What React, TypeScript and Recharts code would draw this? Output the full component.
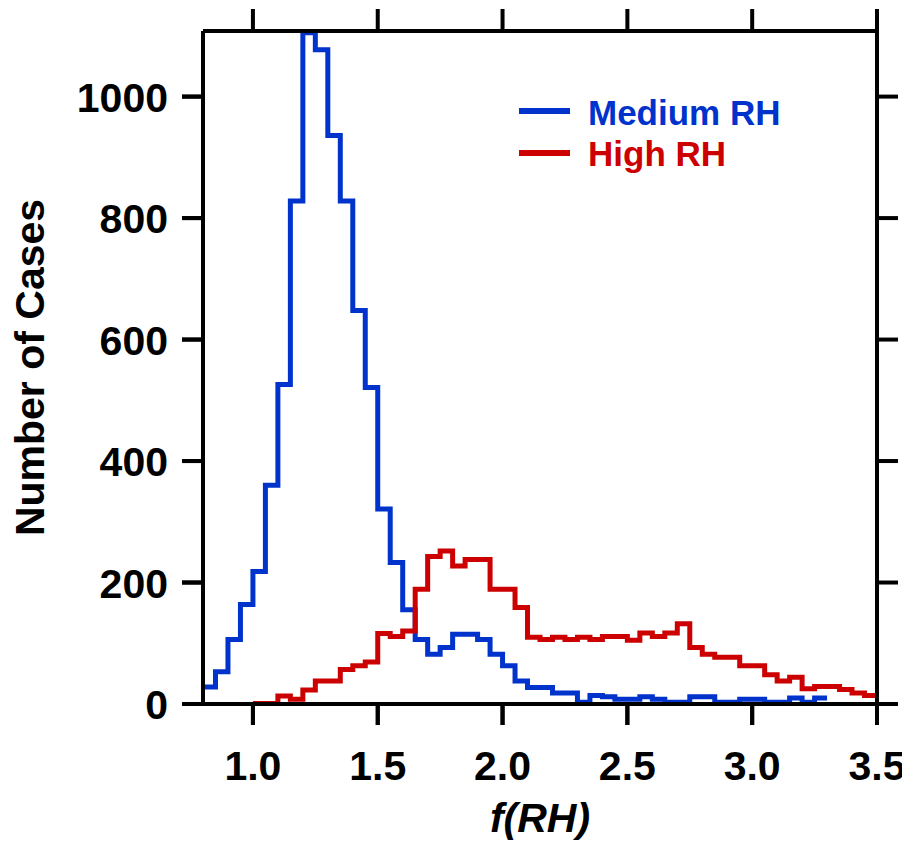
import React from 'react';
import { LineChart, Line, XAxis, YAxis, Legend } from 'recharts';

// Histogram bins (left edges), width 0.05
const binWidth = 0.05;
const mediumStart = 0.8;
const mediumCounts = [
  28, 53, 106, 164, 218, 360, 526, 828, 1105, 1077,
  936, 828, 648, 521, 321, 233, 155, 106, 82, 93,
  115, 115, 106, 82, 63, 38, 27, 27, 18, 18,
  3, 14, 12, 8, 8, 12, 8, 3, 3, 12,
  12, 3, 3, 8, 8, 3, 3, 10, 3, 10,
];
const highStart = 1.0;
const highCounts = [
  1, 1, 13, 8, 23, 38, 38, 57, 63, 69,
  116, 111, 120, 189, 243, 252, 227, 238, 238, 189,
  189, 159, 110, 106, 110, 106, 110, 106, 111, 111,
  105, 117, 111, 117, 132, 93, 82, 77, 77, 63,
  63, 48, 38, 44, 25, 29, 29, 24, 18, 14,
];

const xTicks = [1.0, 1.5, 2.0, 2.5, 3.0, 3.5];
const yTicks = [0, 200, 400, 600, 800, 1000];
const xDomain: [number, number] = [0.8, 3.5];
const yDomain: [number, number] = [0, 1108];

const seriesInfo = [
  { name: 'Medium RH', color: '#0033cc' },
  { name: 'High RH', color: '#cc0000' },
];

const toSteps = (start: number, counts: number[]) => {
  const pts = counts.map((c, i) => ({ x: Number((start + i * binWidth).toFixed(2)), count: c }));
  pts.push({ x: Number((start + counts.length * binWidth).toFixed(2)), count: counts[counts.length - 1] });
  return pts;
};

const mediumSteps = toSteps(mediumStart, mediumCounts);
const highSteps = toSteps(highStart, highCounts);

const FONT = '"Liberation Sans", Arial, Helvetica, sans-serif';
const TICK_LEN = 21;
const GAP = 2; // recharts default tickMargin

const XTitle = (props: any) => {
  const vb = props.viewBox || {};
  return (
    <text
      x={vb.x + vb.width / 2}
      y={vb.y + 128}
      textAnchor="middle"
      fontFamily={FONT}
      fontWeight="bold"
      fontStyle="italic"
      fontSize={41}
      fill="#000"
    >
      f(RH)
    </text>
  );
};

const YTitle = (props: any) => {
  const vb = props.viewBox || {};
  const cx = 36;
  const cy = vb.y + vb.height / 2;
  return (
    <text
      x={cx}
      y={cy}
      transform={`rotate(-90, ${cx}, ${cy})`}
      textAnchor="middle"
      fontFamily={FONT}
      fontWeight="bold"
      fontSize={41}
      fill="#000"
    >
      Number of Cases
    </text>
  );
};

// x,y given by recharts = tick end + default margin
const BottomTick = (props: any) => {
  const { x, y, payload } = props;
  return (
    <g>
      <line x1={x} x2={x} y1={y - GAP - TICK_LEN} y2={y - GAP} stroke="#000" strokeWidth={4} />
      <text x={x} y={y + 53} textAnchor="middle" fontFamily={FONT} fontWeight="bold" fontSize={41} fill="#000">
        {Number(payload.value).toFixed(1)}
      </text>
    </g>
  );
};

const LeftTick = (props: any) => {
  const { x, y, payload } = props;
  return (
    <g>
      <line x1={x + GAP} x2={x + GAP + TICK_LEN} y1={y} y2={y} stroke="#000" strokeWidth={4} />
      <text x={x - 12} y={y + 15} textAnchor="end" fontFamily={FONT} fontWeight="bold" fontSize={41} fill="#000">
        {payload.value}
      </text>
    </g>
  );
};

const renderLegend = () => (
  <svg width={300} height={100}>
    {seriesInfo.map((s, i) => (
      <g key={s.name}>
        <line x1={6} x2={57} y1={33 + i * 42} y2={33 + i * 42} stroke={s.color} strokeWidth={6} />
        <text x={75} y={47 + i * 41} fontFamily={FONT} fontWeight="bold" fontSize={35} fill={s.color}>
          {s.name}
        </text>
      </g>
    ))}
  </svg>
);

const blank = () => '';

export default function App() {
  return (
    <LineChart width={900} height={840} margin={{ top: 3, right: 1, bottom: 64, left: 95 }}>
      <XAxis
        xAxisId={0}
        type="number"
        dataKey="x"
        domain={xDomain}
        allowDataOverflow
        ticks={xTicks}
        interval={0}
        height={80}
        stroke="#000"
        strokeWidth={4}
        tickSize={TICK_LEN}
        tick={<BottomTick />}
        label={<XTitle />}
      />
      <XAxis
        xAxisId="top"
        orientation="top"
        type="number"
        dataKey="x"
        domain={xDomain}
        allowDataOverflow
        ticks={xTicks}
        interval={0}
        tickFormatter={blank}
        height={20}
        stroke="#000"
        strokeWidth={4}
        tickSize={TICK_LEN + 1}
      />
      <YAxis
        yAxisId={0}
        type="number"
        domain={yDomain}
        allowDataOverflow
        ticks={yTicks}
        interval={0}
        width={100}
        stroke="#000"
        strokeWidth={4}
        tickSize={TICK_LEN}
        tick={<LeftTick />}
        label={<YTitle />}
      />
      <YAxis
        yAxisId="right"
        orientation="right"
        type="number"
        domain={yDomain}
        allowDataOverflow
        ticks={yTicks}
        interval={0}
        tickFormatter={blank}
        width={30}
        stroke="#000"
        strokeWidth={4}
        tickSize={TICK_LEN}
      />
      <Legend
        content={renderLegend}
        layout="vertical"
        align="center"
        verticalAlign="middle"
        wrapperStyle={{ position: 'absolute', left: 505, top: 70, width: 300, height: 100 }}
      />
      <Line
        data={mediumSteps}
        dataKey="count"
        name={seriesInfo[0].name}
        type="stepAfter"
        stroke={seriesInfo[0].color}
        strokeWidth={5}
        strokeLinejoin="miter"
        dot={false}
        activeDot={false}
        isAnimationActive={false}
      />
      <Line
        data={highSteps}
        dataKey="count"
        name={seriesInfo[1].name}
        type="stepAfter"
        stroke={seriesInfo[1].color}
        strokeWidth={5}
        strokeLinejoin="miter"
        dot={false}
        activeDot={false}
        isAnimationActive={false}
      />
    </LineChart>
  );
}
